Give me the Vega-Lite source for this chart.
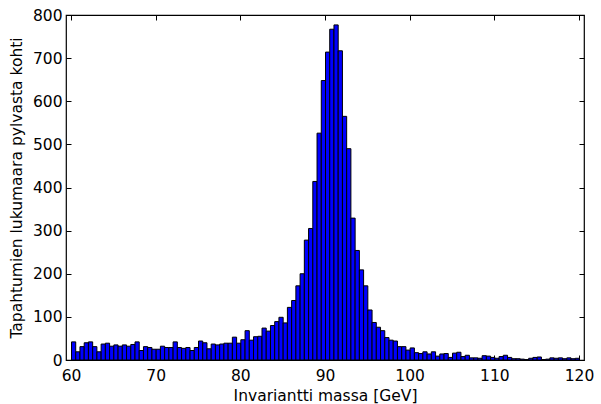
{
  "$schema": "https://vega.github.io/schema/vega-lite/v6.json",
  "width": 518,
  "height": 345,
  "autosize": {"type": "none"},
  "padding": {"left": 66, "top": 15, "right": 17, "bottom": 44},
  "background": "white",
  "config": {
    "font": "DejaVu Sans",
    "view": {"stroke": "black", "strokeWidth": 1.2},
    "axis": {
      "domain": false,
      "grid": false,
      "tickColor": "black",
      "tickSize": -5,
      "tickWidth": 1,
      "labelColor": "black",
      "labelFontSize": 15.5,
      "titleFontSize": 15.5,
      "titleFontWeight": "normal",
      "titleColor": "black",
      "labelFont": "DejaVu Sans",
      "titleFont": "DejaVu Sans"
    }
  },
  "data": {"values": [
    {"lo": 60.0, "hi": 60.5, "count": 42},
    {"lo": 60.5, "hi": 61.0, "count": 19},
    {"lo": 61.0, "hi": 61.5, "count": 31},
    {"lo": 61.5, "hi": 62.0, "count": 40},
    {"lo": 62.0, "hi": 62.5, "count": 42},
    {"lo": 62.5, "hi": 63.0, "count": 31},
    {"lo": 63.0, "hi": 63.5, "count": 19},
    {"lo": 63.5, "hi": 64.0, "count": 37},
    {"lo": 64.0, "hi": 64.5, "count": 39},
    {"lo": 64.5, "hi": 65.0, "count": 32},
    {"lo": 65.0, "hi": 65.5, "count": 35},
    {"lo": 65.5, "hi": 66.0, "count": 32},
    {"lo": 66.0, "hi": 66.5, "count": 35},
    {"lo": 66.5, "hi": 67.0, "count": 32},
    {"lo": 67.0, "hi": 67.5, "count": 36},
    {"lo": 67.5, "hi": 68.0, "count": 42},
    {"lo": 68.0, "hi": 68.5, "count": 22},
    {"lo": 68.5, "hi": 69.0, "count": 31},
    {"lo": 69.0, "hi": 69.5, "count": 29},
    {"lo": 69.5, "hi": 70.0, "count": 25},
    {"lo": 70.0, "hi": 70.5, "count": 25},
    {"lo": 70.5, "hi": 71.0, "count": 32},
    {"lo": 71.0, "hi": 71.5, "count": 29},
    {"lo": 71.5, "hi": 72.0, "count": 29},
    {"lo": 72.0, "hi": 72.5, "count": 42},
    {"lo": 72.5, "hi": 73.0, "count": 29},
    {"lo": 73.0, "hi": 73.5, "count": 27},
    {"lo": 73.5, "hi": 74.0, "count": 29},
    {"lo": 74.0, "hi": 74.5, "count": 22},
    {"lo": 74.5, "hi": 75.0, "count": 29},
    {"lo": 75.0, "hi": 75.5, "count": 44},
    {"lo": 75.5, "hi": 76.0, "count": 40},
    {"lo": 76.0, "hi": 76.5, "count": 26},
    {"lo": 76.5, "hi": 77.0, "count": 37},
    {"lo": 77.0, "hi": 77.5, "count": 35},
    {"lo": 77.5, "hi": 78.0, "count": 37},
    {"lo": 78.0, "hi": 78.5, "count": 39},
    {"lo": 78.5, "hi": 79.0, "count": 39},
    {"lo": 79.0, "hi": 79.5, "count": 53},
    {"lo": 79.5, "hi": 80.0, "count": 39},
    {"lo": 80.0, "hi": 80.5, "count": 47},
    {"lo": 80.5, "hi": 81.0, "count": 68},
    {"lo": 81.0, "hi": 81.5, "count": 46},
    {"lo": 81.5, "hi": 82.0, "count": 54},
    {"lo": 82.0, "hi": 82.5, "count": 55},
    {"lo": 82.5, "hi": 83.0, "count": 74},
    {"lo": 83.0, "hi": 83.5, "count": 67},
    {"lo": 83.5, "hi": 84.0, "count": 80},
    {"lo": 84.0, "hi": 84.5, "count": 89},
    {"lo": 84.5, "hi": 85.0, "count": 99},
    {"lo": 85.0, "hi": 85.5, "count": 86},
    {"lo": 85.5, "hi": 86.0, "count": 122},
    {"lo": 86.0, "hi": 86.5, "count": 138},
    {"lo": 86.5, "hi": 87.0, "count": 172},
    {"lo": 87.0, "hi": 87.5, "count": 200},
    {"lo": 87.5, "hi": 88.0, "count": 278},
    {"lo": 88.0, "hi": 88.5, "count": 305},
    {"lo": 88.5, "hi": 89.0, "count": 414},
    {"lo": 89.0, "hi": 89.5, "count": 526},
    {"lo": 89.5, "hi": 90.0, "count": 648},
    {"lo": 90.0, "hi": 90.5, "count": 714},
    {"lo": 90.5, "hi": 91.0, "count": 767},
    {"lo": 91.0, "hi": 91.5, "count": 777},
    {"lo": 91.5, "hi": 92.0, "count": 717},
    {"lo": 92.0, "hi": 92.5, "count": 565},
    {"lo": 92.5, "hi": 93.0, "count": 490},
    {"lo": 93.0, "hi": 93.5, "count": 329},
    {"lo": 93.5, "hi": 94.0, "count": 254},
    {"lo": 94.0, "hi": 94.5, "count": 209},
    {"lo": 94.5, "hi": 95.0, "count": 172},
    {"lo": 95.0, "hi": 95.5, "count": 116},
    {"lo": 95.5, "hi": 96.0, "count": 87},
    {"lo": 96.0, "hi": 96.5, "count": 76},
    {"lo": 96.5, "hi": 97.0, "count": 68},
    {"lo": 97.0, "hi": 97.5, "count": 52},
    {"lo": 97.5, "hi": 98.0, "count": 46},
    {"lo": 98.0, "hi": 98.5, "count": 44},
    {"lo": 98.5, "hi": 99.0, "count": 31},
    {"lo": 99.0, "hi": 99.5, "count": 31},
    {"lo": 99.5, "hi": 100.0, "count": 23},
    {"lo": 100.0, "hi": 100.5, "count": 28},
    {"lo": 100.5, "hi": 101.0, "count": 17},
    {"lo": 101.0, "hi": 101.5, "count": 15},
    {"lo": 101.5, "hi": 102.0, "count": 19},
    {"lo": 102.0, "hi": 102.5, "count": 14},
    {"lo": 102.5, "hi": 103.0, "count": 19},
    {"lo": 103.0, "hi": 103.5, "count": 9},
    {"lo": 103.5, "hi": 104.0, "count": 14},
    {"lo": 104.0, "hi": 104.5, "count": 15},
    {"lo": 104.5, "hi": 105.0, "count": 6},
    {"lo": 105.0, "hi": 105.5, "count": 16},
    {"lo": 105.5, "hi": 106.0, "count": 18},
    {"lo": 106.0, "hi": 106.5, "count": 8},
    {"lo": 106.5, "hi": 107.0, "count": 11},
    {"lo": 107.0, "hi": 107.5, "count": 5},
    {"lo": 107.5, "hi": 108.0, "count": 5},
    {"lo": 108.0, "hi": 108.5, "count": 4},
    {"lo": 108.5, "hi": 109.0, "count": 10},
    {"lo": 109.0, "hi": 109.5, "count": 9},
    {"lo": 109.5, "hi": 110.0, "count": 6},
    {"lo": 110.0, "hi": 110.5, "count": 4},
    {"lo": 110.5, "hi": 111.0, "count": 8},
    {"lo": 111.0, "hi": 111.5, "count": 11},
    {"lo": 111.5, "hi": 112.0, "count": 6},
    {"lo": 112.0, "hi": 112.5, "count": 3},
    {"lo": 112.5, "hi": 113.0, "count": 3},
    {"lo": 113.0, "hi": 113.5, "count": 2},
    {"lo": 113.5, "hi": 114.0, "count": 1},
    {"lo": 114.0, "hi": 114.5, "count": 4},
    {"lo": 114.5, "hi": 115.0, "count": 6},
    {"lo": 115.0, "hi": 115.5, "count": 7},
    {"lo": 115.5, "hi": 116.0, "count": 1},
    {"lo": 116.0, "hi": 116.5, "count": 2},
    {"lo": 116.5, "hi": 117.0, "count": 5},
    {"lo": 117.0, "hi": 117.5, "count": 4},
    {"lo": 117.5, "hi": 118.0, "count": 5},
    {"lo": 118.0, "hi": 118.5, "count": 3},
    {"lo": 118.5, "hi": 119.0, "count": 5},
    {"lo": 119.0, "hi": 119.5, "count": 3},
    {"lo": 119.5, "hi": 120.0, "count": 4}
  ]},
  "layer": [
    {
      "mark": {"type": "bar", "fill": "#0000ff", "stroke": "black", "strokeWidth": 1, "binSpacing": 0},
      "encoding": {
        "x": {
          "field": "lo", "type": "quantitative",
          "bin": {"binned": true, "step": 0.5},
          "scale": {"domain": [60, 120], "nice": false, "zero": false},
          "axis": {"values": [60, 70, 80, 90, 100, 110, 120], "title": "Invariantti massa [GeV]", "labelPadding": 13, "titlePadding": 5, "format": "d"}
        },
        "x2": {"field": "hi"},
        "y": {
          "field": "count", "type": "quantitative",
          "scale": {"domain": [0, 800], "nice": false},
          "axis": {"values": [0, 100, 200, 300, 400, 500, 600, 700, 800], "title": "Tapahtumien lukumaara pylvasta kohti", "labelPadding": 9, "titlePadding": 8}
        }
      }
    },
    {
      "mark": {"type": "bar", "opacity": 0},
      "encoding": {
        "x": {
          "field": "lo", "type": "quantitative",
          "scale": {"domain": [60, 120], "nice": false, "zero": false},
          "axis": {"orient": "top", "values": [60, 70, 80, 90, 100, 110, 120], "labels": false, "title": null}
        },
        "y": {
          "field": "count", "type": "quantitative",
          "scale": {"domain": [0, 800], "nice": false},
          "axis": {"orient": "right", "values": [0, 100, 200, 300, 400, 500, 600, 700, 800], "labels": false, "title": null}
        }
      }
    }
  ],
  "resolve": {"axis": {"x": "independent", "y": "independent"}}
}
